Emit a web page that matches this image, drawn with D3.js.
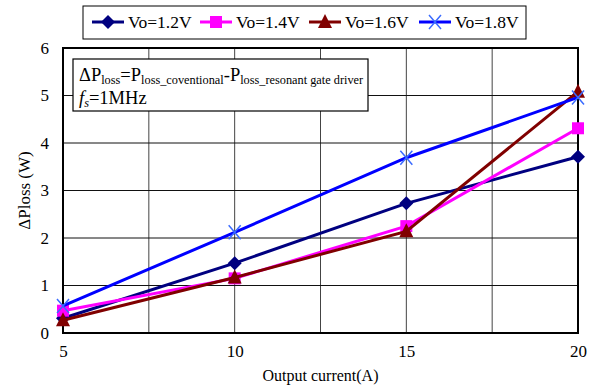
<!DOCTYPE html>
<html>
<head>
<meta charset="utf-8">
<script src="https://cdn.jsdelivr.net/npm/d3@7"></script>
<style>
  body { margin: 0; background: #fff; }
</style>
</head>
<body>
<div class="chart"></div>
<script>
const current = [5, 10, 15, 20]
const vo12 = [0.31, 1.47, 2.73, 3.71]
const vo14 = [0.47, 1.15, 2.25, 4.31]
const vo16 = [0.27, 1.17, 2.14, 5.08]
const vo18 = [0.57, 2.12, 3.69, 4.96]
const seriesNames = ['Vo=1.2V', 'Vo=1.4V', 'Vo=1.6V', 'Vo=1.8V']
const xTicks = [5, 10, 15, 20]
const xGrid = [7.5, 10, 12.5, 15, 17.5]
const yTicks = [0, 1, 2, 3, 4, 5, 6]

const width = 601
const height = 387
const margin = { left: 63, right: 23, top: 48, bottom: 54 }
const font = "'Liberation Serif', 'Times New Roman', 'DejaVu Serif', serif"

const series = [
  { name: seriesNames[0], values: vo12, color: '#000080', marker: 'diamond' },
  { name: seriesNames[1], values: vo14, color: '#ff00ff', marker: 'square' },
  { name: seriesNames[2], values: vo16, color: '#800000', marker: 'triangle' },
  { name: seriesNames[3], values: vo18, color: '#0000ff', marker: 'cross' }
]

const svg = d3.select('.chart')
  .append('svg')
  .attr('width', width)
  .attr('height', height)
  .attr('font-family', font)

const x = d3.scaleLinear().domain([5, 20]).range([margin.left, width - margin.right])
const y = d3.scaleLinear().domain([0, 6]).range([height - margin.bottom, margin.top])

// grid
svg.append('g')
  .selectAll('line')
  .data(xGrid)
  .enter()
  .append('line')
  .attr('x1', d => x(d)).attr('x2', d => x(d))
  .attr('y1', y(0)).attr('y2', y(6))
  .attr('stroke', '#444').attr('stroke-width', 1)

svg.append('g')
  .selectAll('line')
  .data(yTicks.slice(1, -1))
  .enter()
  .append('line')
  .attr('x1', x(5)).attr('x2', x(20))
  .attr('y1', d => y(d)).attr('y2', d => y(d))
  .attr('stroke', '#111').attr('stroke-width', 1)

// axes
const xAxis = d3.axisBottom(x).tickValues(xTicks).tickFormat(d3.format('d')).tickSize(0).tickPadding(12)
svg.append('g')
  .attr('transform', `translate(0, ${y(0)})`)
  .call(xAxis)
  .attr('font-family', font)
  .attr('font-size', 17)
  .call(g => g.select('.domain').remove())

const yAxis = d3.axisLeft(y).tickValues(yTicks).tickFormat(d3.format('d')).tickSize(0).tickPadding(14)
svg.append('g')
  .attr('transform', `translate(${x(5)}, 0)`)
  .call(yAxis)
  .attr('font-family', font)
  .attr('font-size', 17)
  .call(g => g.select('.domain').remove())

// plot frame
svg.append('rect')
  .attr('x', x(5)).attr('y', y(6))
  .attr('width', x(20) - x(5)).attr('height', y(0) - y(6))
  .attr('fill', 'none').attr('stroke', '#000').attr('stroke-width', 2)

// annotation box
const note = svg.append('g')
note.append('rect')
  .attr('x', 73).attr('y', 59).attr('width', 295).attr('height', 52)
  .attr('fill', '#fff').attr('stroke', '#000').attr('stroke-width', 1.2)
const t1 = note.append('text').attr('x', 79).attr('y', 81).attr('font-size', 18.5)
t1.append('tspan').text('ΔP')
t1.append('tspan').attr('font-size', 12.3).attr('dy', 3).text('loss')
t1.append('tspan').attr('dy', -3).text('=P')
t1.append('tspan').attr('font-size', 12.3).attr('dy', 3).text('loss_coventional')
t1.append('tspan').attr('dy', -3).text('-P')
t1.append('tspan').attr('font-size', 12.3).attr('dy', 3).text('loss_resonant gate driver')
const t2 = note.append('text').attr('x', 79).attr('y', 104).attr('font-size', 18.5)
t2.append('tspan').attr('font-style', 'italic').text('f')
t2.append('tspan').attr('font-style', 'italic').attr('font-size', 12.3).attr('dy', 3).text('s')
t2.append('tspan').attr('dy', -3).text('=1MHz')

// markers
function drawMarker(g, type, color, cx, cy) {
  if (type === 'diamond') {
    g.append('path')
      .attr('d', `M${cx},${cy - 7}L${cx + 7},${cy}L${cx},${cy + 7}L${cx - 7},${cy}Z`)
      .attr('fill', color)
  } else if (type === 'square') {
    g.append('rect')
      .attr('x', cx - 6).attr('y', cy - 6).attr('width', 12).attr('height', 12)
      .attr('fill', color)
  } else if (type === 'triangle') {
    g.append('path')
      .attr('d', `M${cx},${cy - 8}L${cx + 7},${cy + 6}L${cx - 7},${cy + 6}Z`)
      .attr('fill', color)
  } else {
    g.append('path')
      .attr('d', `M${cx - 6},${cy - 7}L${cx + 6},${cy + 7}M${cx + 6},${cy - 7}L${cx - 6},${cy + 7}`)
      .attr('stroke', '#3a6bff').attr('stroke-width', 1.5)
  }
}

const line = d3.line()
  .x((d, i) => x(current[i]))
  .y(d => y(d))

series.forEach(s => {
  const g = svg.append('g')
  g.append('path')
    .datum(s.values)
    .attr('d', line)
    .attr('fill', 'none')
    .attr('stroke', s.color)
    .attr('stroke-width', 3)
  s.values.forEach((v, i) => drawMarker(g, s.marker, s.color, x(current[i]), y(v)))
})

// axis titles
svg.append('text')
  .attr('x', (x(5) + x(20)) / 2)
  .attr('y', 381)
  .attr('text-anchor', 'middle')
  .attr('font-size', 16)
  .text('Output current(A)')

svg.append('text')
  .attr('transform', `translate(30, ${(y(0) + y(6)) / 2}) rotate(-90)`)
  .attr('text-anchor', 'middle')
  .attr('font-size', 17)
  .text('ΔPloss (W)')

// legend
const legend = svg.append('g')
legend.append('rect')
  .attr('x', 83).attr('y', 6).attr('width', 443).attr('height', 33)
  .attr('fill', '#fff').attr('stroke', '#000').attr('stroke-width', 1)
const legendX = [92, 200, 309, 419]
series.forEach((s, i) => {
  const lx = legendX[i]
  const ly = 22
  legend.append('line')
    .attr('x1', lx).attr('x2', lx + 32)
    .attr('y1', ly).attr('y2', ly)
    .attr('stroke', s.color).attr('stroke-width', 3)
  drawMarker(legend, s.marker, s.color, lx + 16, ly)
  legend.append('text')
    .attr('x', lx + 36).attr('y', ly + 6)
    .attr('font-size', 17.5)
    .text(s.name)
})
</script>
</body>
</html>
